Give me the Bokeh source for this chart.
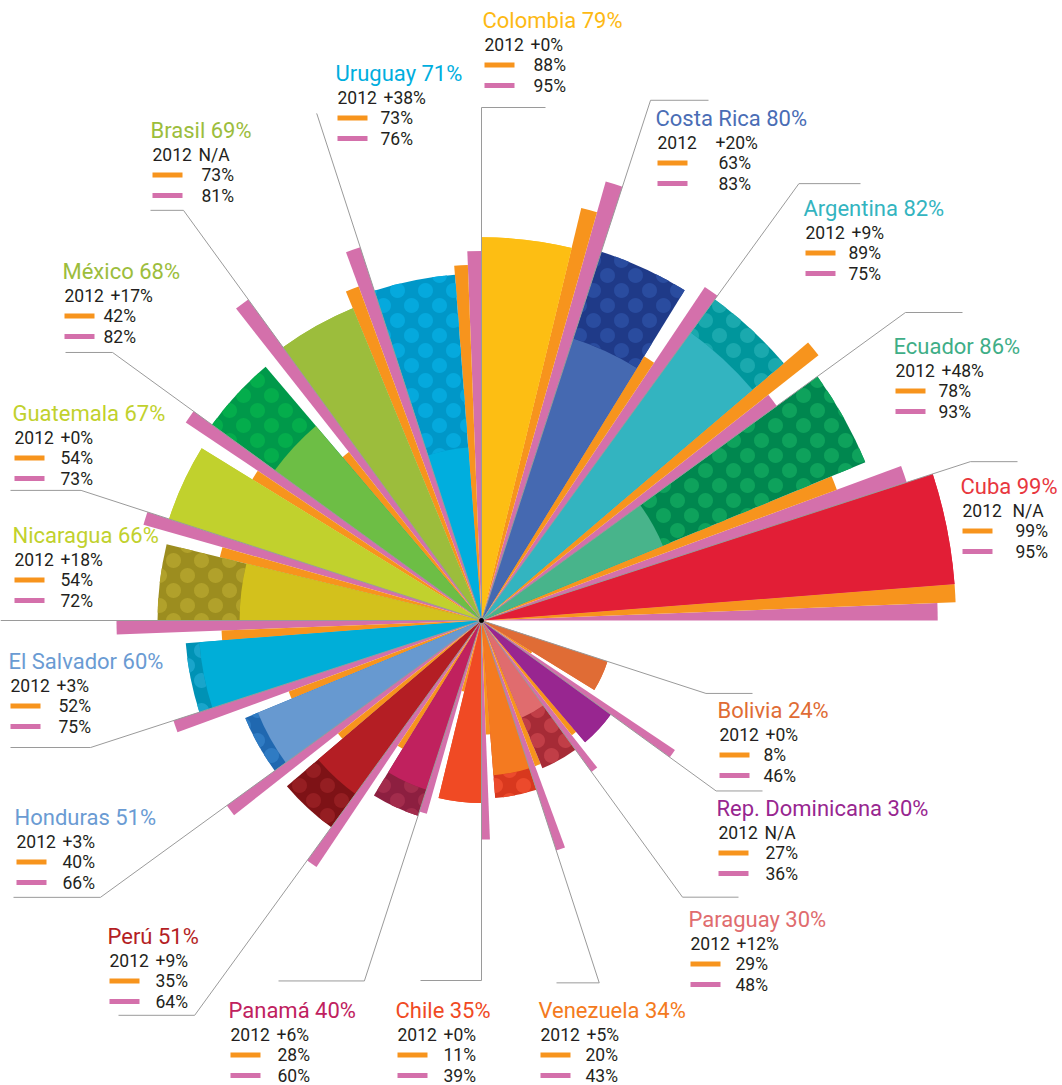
import math
from bokeh.plotting import figure
from bokeh.models import Range1d, ColumnDataSource
from bokeh.embed import file_html
from bokeh.resources import INLINE
from bokeh.core.properties import value

# ---------------- data ----------------
countries = ["Cuba", "Ecuador", "Argentina", "Costa Rica", "Colombia", "Uruguay",
             "Brasil", "México", "Guatemala", "Nicaragua", "El Salvador", "Honduras",
             "Perú", "Panamá", "Chile", "Venezuela", "Paraguay", "Rep. Dominicana", "Bolivia"]
main_pct = [99, 86, 82, 80, 79, 71, 69, 68, 67, 66, 60, 51, 51, 40, 35, 34, 30, 30, 24]
change_2012 = [None, 48, 9, 20, 0, 38, None, 17, 0, 18, 3, 3, 9, 6, 0, 5, 12, None, 0]
orange_pct = [99, 78, 89, 63, 88, 73, 73, 42, 54, 54, 52, 40, 35, 28, 11, 20, 29, 27, 8]
pink_pct = [95, 93, 75, 83, 95, 76, 81, 82, 73, 72, 75, 66, 64, 60, 39, 43, 48, 36, 46]

# ---------------- styles ----------------
inner_colors = ["#E21E36", "#48B48B", "#33B4C0", "#4569B1", "#FDBE13", "#00AEDE",
                "#9CBD3C", "#6DBE45", "#C1D12D", "#D3C11C", "#00AED8", "#6799D0",
                "#B41E24", "#C0215E", "#F04A24", "#F47A20", "#E06C6E", "#982690", "#E06C35"]
outer_colors = ["#E21E36", "#00874F", "#00969C", "#1F3A88", "#FDBE13", "#0097C8",
                "#9CBD3C", "#00994A", "#C1D12D", "#9C8D1F", "#0092B5", "#2068B0",
                "#7E1216", "#8D1F40", "#F04A24", "#D8381E", "#A62B36", "#982690", "#E06C35"]
dot_colors = ["#E21E36", "#0EA25C", "#1AA9AE", "#2A4C9F", "#FDBE13", "#05A9DD",
              "#9CBD3C", "#04AD4C", "#C1D12D", "#B1A12B", "#19A5CB", "#2F7BC3",
              "#951E22", "#A22C4C", "#F04A24", "#EC4A2C", "#C13E47", "#982690", "#E06C35"]
title_colors = ["#E8373E", "#3FAE87", "#33B4C0", "#4A6DB5", "#FDB913", "#00AEDE",
                "#9CBD3C", "#9CBD3C", "#C1D12D", "#C1D12D", "#6A9BD3", "#6A9BD3",
                "#B41E24", "#C0215E", "#F04A24", "#F47A20", "#E06C6E", "#982690", "#E06C35"]
ORANGE = "#F7941D"
PINK = "#D470AB"
TEXT = "#231F20"
LINE = "#9A9A9A"

# label layout (screen px)
label_x = [960, 893, 803, 655, 482, 335, 150, 62, 12, 12, 8, 14, 107, 228, 395, 538, 688, 716, 717]
label_y = [486, 346, 208, 118, 20, 73, 130, 271, 413, 535, 661, 817, 936, 1010, 1010, 1010, 919, 808, 710]
value_x = [1015, 938, 848, 718, 533, 380, 201, 103, 60, 60, 58, 62, 155, 277, 443, 585, 735, 765, 763]
leader_r = [514, 524, 540, 547, 513, 533, 507, 456, 421, 481, 411, 471, 488, 379, 360, 381, 342, 290, 236]
leader_hx = [1017, 962, 860, 708, 545, 316, 150, 65, 10, 0, 10, 13, 118, 278, 420, 556, 738, 762, 752]
ROW1, ROW2, ROW3 = 24, 44.5, 65

W, H = 1062, 1085
CX, CY_S = 481.0, 620.0


def Y(sy):
    return H - sy


CY = Y(CY_S)
R0, K = 23.0, 4.56
SECTOR, BAR = 18.0, 2.2


def rad(v):
    return R0 + K * v


p = figure(width=W, height=H, x_range=Range1d(0, W), y_range=Range1d(0, H),
           output_backend="svg", toolbar_location=None, min_border=0)
p.axis.visible = False
p.grid.visible = False
p.outline_line_color = None
p.background_fill_color = "white"

n = len(countries)
d2r = math.pi / 180

# bars
pink_src = ColumnDataSource(dict(r=[rad(v) for v in pink_pct],
                                 s=[SECTOR * i * d2r for i in range(n)],
                                 e=[(SECTOR * i + BAR) * d2r for i in range(n)]))
orange_src = ColumnDataSource(dict(r=[rad(v) for v in orange_pct],
                                   s=[(SECTOR * i + BAR) * d2r for i in range(n)],
                                   e=[(SECTOR * i + 2 * BAR) * d2r for i in range(n)]))
main_src = ColumnDataSource(dict(r=[rad(v) for v in main_pct],
                                 s=[(SECTOR * i + 2 * BAR) * d2r for i in range(n)],
                                 e=[SECTOR * (i + 1) * d2r for i in range(n)],
                                 c=outer_colors))
base_vals = [m - (c if c else 0) for m, c in zip(main_pct, change_2012)]
inner_src = ColumnDataSource(dict(r=[rad(v) for v in base_vals],
                                  s=[(SECTOR * i + 2 * BAR) * d2r for i in range(n)],
                                  e=[SECTOR * (i + 1) * d2r for i in range(n)],
                                  c=inner_colors))

p.wedge(x=CX, y=CY, radius="r", start_angle="s", end_angle="e", source=pink_src,
        fill_color=PINK, line_color=None)
p.wedge(x=CX, y=CY, radius="r", start_angle="s", end_angle="e", source=orange_src,
        fill_color=ORANGE, line_color=None)
p.wedge(x=CX, y=CY, radius="r", start_angle="s", end_angle="e", source=main_src,
        fill_color="c", line_color=None)

# polka dots in the growth bands
DR, GX, GY = 7.5, 28.0, 15.0
dxs, dys, dcs = [], [], []
for i in range(n):
    ch = change_2012[i]
    if not ch:
        continue
    r_in, r_out = rad(main_pct[i] - ch), rad(main_pct[i])
    a0, a1 = SECTOR * i + 2 * BAR, SECTOR * (i + 1)
    mid, half = (a0 + a1) / 2, (a1 - a0) / 2
    for row in range(-40, 41):
        gy = CY + row * GY
        off = (GX / 2) if row % 2 else 0.0
        for col in range(-22, 23):
            gx = CX + col * GX + off
            r = math.hypot(gx - CX, gy - CY)
            th = math.degrees(math.atan2(gy - CY, gx - CX))
            d = (th - mid + 180) % 360 - 180
            if r < r_in - DR * 0.7 or r > r_out + DR * 0.7:
                continue
            if abs(d) > half and (abs(d) - half) * d2r * r > DR * 0.7:
                continue
            px, py = [], []
            for t in range(28):
                ang = 2 * math.pi * t / 28
                qx, qy = gx + DR * math.cos(ang), gy + DR * math.sin(ang)
                qr = math.hypot(qx - CX, qy - CY)
                qd = (math.degrees(math.atan2(qy - CY, qx - CX)) - mid + 180) % 360 - 180
                qr = min(max(qr, r_in), r_out)
                qd = min(max(qd, -half), half)
                qa = (mid + qd) * d2r
                px.append(CX + qr * math.cos(qa))
                py.append(CY + qr * math.sin(qa))
            dxs.append(px)
            dys.append(py)
            dcs.append(dot_colors[i])
p.patches(xs=dxs, ys=dys, fill_color=dcs, line_color=None)

p.wedge(x=CX, y=CY, radius="r", start_angle="s", end_angle="e", source=inner_src,
        fill_color="c", line_color=None)

# leader lines
lxs, lys = [], []
for i in range(n):
    a = SECTOR * (i + 1) * d2r
    ex, ey = CX + leader_r[i] * math.cos(a), CY + leader_r[i] * math.sin(a)
    lxs.append([CX, ex, leader_hx[i]])
    lys.append([CY, ey, ey])
p.multi_line(xs=lxs, ys=lys, line_color=LINE, line_width=1)
p.scatter(x=[CX], y=[CY], size=4, color="black")

# labels
FONT = value("Roboto")
titles = [f"{c} {v}%" for c, v in zip(countries, main_pct)]
p.text(x=label_x, y=[Y(v) for v in label_y], text=titles, text_color=title_colors,
       text_font=FONT, text_font_size="22px", text_baseline="middle", text_align="left")
p.text(x=[x + 2 for x in label_x], y=[Y(v + ROW1) for v in label_y], text=["2012"] * n,
       text_color=TEXT, text_font=FONT, text_font_size="17.5px", text_baseline="middle")
chg_txt = ["N/A" if c is None else f"+{c}%" for c in change_2012]
chg_x = [max(vx - 3, lx + 48) for vx, lx in zip(value_x, label_x)]
p.text(x=chg_x, y=[Y(v + ROW1) for v in label_y], text=chg_txt,
       text_color=TEXT, text_font=FONT, text_font_size="17.5px", text_baseline="middle")
p.text(x=value_x, y=[Y(v + ROW2) for v in label_y], text=[f"{v}%" for v in orange_pct],
       text_color=TEXT, text_font=FONT, text_font_size="17.5px", text_baseline="middle")
p.text(x=value_x, y=[Y(v + ROW3) for v in label_y], text=[f"{v}%" for v in pink_pct],
       text_color=TEXT, text_font=FONT, text_font_size="17.5px", text_baseline="middle")
p.quad(left=[x + 2 for x in label_x], right=[x + 32 for x in label_x],
       top=[Y(v + ROW2) + 2.5 for v in label_y], bottom=[Y(v + ROW2) - 2.5 for v in label_y],
       fill_color=ORANGE, line_color=None)
p.quad(left=[x + 2 for x in label_x], right=[x + 32 for x in label_x],
       top=[Y(v + ROW3) + 2.5 for v in label_y], bottom=[Y(v + ROW3) - 2.5 for v in label_y],
       fill_color=PINK, line_color=None)

open("out.html", "w").write(file_html(p, INLINE))
